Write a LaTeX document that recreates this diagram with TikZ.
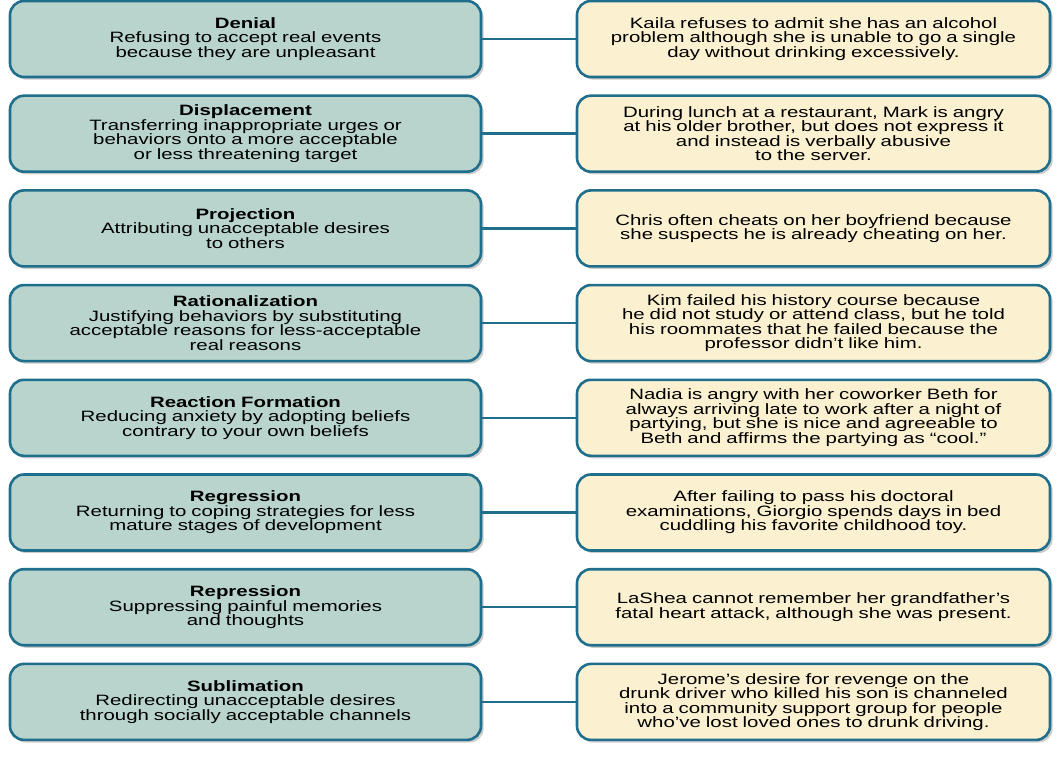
\documentclass[tikz,border=0pt]{standalone}
\usepackage{fontspec}
\setmainfont{Liberation Sans}[FakeStretch=1.36]
\usetikzlibrary{shadows}
\definecolor{borde}{HTML}{1F6E8C}
\definecolor{verde}{HTML}{B8D4CC}
\definecolor{crema}{HTML}{FBF1D0}
\tikzstyle{mecanismo}=[draw=borde, line width=2.6pt, fill=verde, rounded corners=14pt,
  minimum width=471pt, minimum height=76pt, text width=455pt, align=center,
  font=\fontsize{15}{14.5}\selectfont, drop shadow={opacity=0.4}]
\tikzstyle{ejemplo} = [mecanismo, fill=crema, minimum width=473pt]
\tikzstyle{line} = [draw, line width=2.4pt, color=borde]
\newcommand{\defensa}[5]{%
  \node (p#1) [mecanismo] at (245.5pt,-#2pt) {\textbf{#3}\\#4};
  \node (e#1) [ejemplo] at (813.5pt,-#2pt) {#5};
  \path [line] (p#1.east) -- (e#1.west);}

\begin{document}
\begin{tikzpicture}
\useasboundingbox (0,0) rectangle (1058pt,-757pt);

  % Rows: mechanism on the left, example on the right
\defensa{1}{39}{Denial}{Refusing to accept real events\\because they are unpleasant}
  {Kaila refuses to admit she has an alcohol\\problem although she is unable to go a single\\day without drinking excessively.}
\defensa{2}{133.7}{Displacement}{Transferring inappropriate urges or\\behaviors onto a more acceptable\\or less threatening target}
  {During lunch at a restaurant, Mark is angry\\at his older brother, but does not express it\\and instead is verbally abusive\\to the server.}
\defensa{3}{228.4}{Projection}{Attributing unacceptable desires\\to others}
  {Chris often cheats on her boyfriend because\\she suspects he is already cheating on her.}
\defensa{4}{323.1}{Rationalization}{Justifying behaviors by substituting\\acceptable reasons for less-acceptable\\real reasons}
  {Kim failed his history course because\\he did not study or attend class, but he told\\his roommates that he failed because the\\professor didn't like him.}
\defensa{5}{417.8}{Reaction Formation}{Reducing anxiety by adopting beliefs\\contrary to your own beliefs}
  {Nadia is angry with her coworker Beth for\\always arriving late to work after a night of\\partying, but she is nice and agreeable to\\Beth and affirms the partying as ``cool.''}
\defensa{6}{512.5}{Regression}{Returning to coping strategies for less\\mature stages of development}
  {After failing to pass his doctoral\\examinations, Giorgio spends days in bed\\cuddling his favorite childhood toy.}
\defensa{7}{607.2}{Repression}{Suppressing painful memories\\and thoughts}
  {LaShea cannot remember her grandfather's\\fatal heart attack, although she was present.}
\defensa{8}{701.9}{Sublimation}{Redirecting unacceptable desires\\through socially acceptable channels}
  {Jerome's desire for revenge on the\\drunk driver who killed his son is channeled\\into a community support group for people\\who've lost loved ones to drunk driving.}
\end{tikzpicture}
\end{document}
